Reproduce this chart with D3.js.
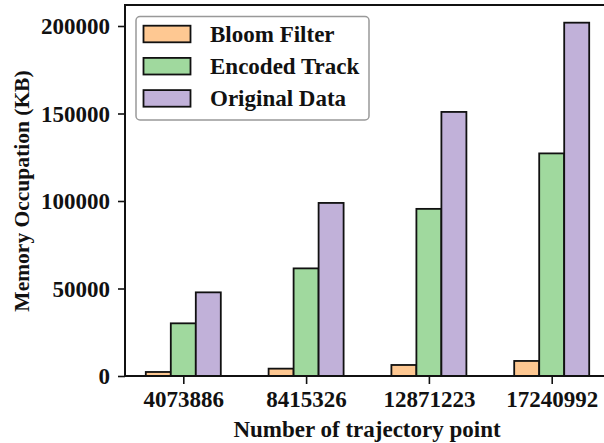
<!DOCTYPE html>
<html><head><meta charset="utf-8">
<script src="https://cdn.jsdelivr.net/npm/d3@7"></script>
<style>body{margin:0;background:#fff;} svg{display:block;}</style>
</head><body>
<svg id="c" width="604" height="443"></svg>
<script>
const categories = ["4073886","8415326","12871223","17240992"];
const seriesNames = ["Bloom Filter","Encoded Track","Original Data"];
const bloomFilter = [2300, 4200, 6300, 8600];
const encodedTrack = [30100, 61500, 95500, 127200];
const originalData = [47800, 98900, 150900, 201900];
const yTicks = [0, 50000, 100000, 150000, 200000];
const colors = ["#fec892", "#a0d99e", "#c1b1d9"];
const series = [bloomFilter, encodedTrack, originalData];

const font = "'Liberation Serif','Times New Roman',serif";
const svg = d3.select("#c");
const m = {left:125, top:5, right:640, bottom:376};

const x = d3.scalePoint().domain(categories).range([183.3, 551.7]);
const inner = d3.scaleBand().domain(seriesNames).range([-37.5, 37.5]).padding(0);
const y = d3.scaleLinear().domain([0, 212000]).range([m.bottom, m.top]);

// bars
series.forEach((vals, si) => {
  svg.append("g").selectAll("rect").data(vals).join("rect")
    .attr("x", (d,i) => x(categories[i]) + inner(seriesNames[si]))
    .attr("y", d => y(d))
    .attr("width", inner.bandwidth())
    .attr("height", d => y(0) - y(d))
    .attr("fill", colors[si])
    .attr("stroke", "#111")
    .attr("stroke-width", 1.8);
});

// axes
const yAxis = d3.axisLeft(y).tickValues(yTicks).tickSize(7).tickPadding(8).tickFormat(d3.format("d"));
const gy = svg.append("g").attr("transform", `translate(${m.left},0)`).call(yAxis);
const xAxis = d3.axisBottom(x).tickSize(8).tickPadding(7);
const gx = svg.append("g").attr("transform", `translate(0,${m.bottom})`).call(xAxis);
[gx, gy].forEach(g => {
  g.select(".domain").remove();
  g.selectAll(".tick line").attr("stroke", "#111").attr("stroke-width", 1.6);
  g.selectAll(".tick text").attr("font-family", font).attr("font-weight", "bold")
    .attr("font-size", 23).attr("fill", "#111");
});
gy.selectAll(".tick text").attr("dy", "0.34em");

// spines
svg.append("rect").attr("x", m.left).attr("y", m.top)
  .attr("width", m.right - m.left).attr("height", m.bottom - m.top)
  .attr("fill", "none").attr("stroke", "#111").attr("stroke-width", 2);

// axis titles
svg.append("text").attr("x", 367).attr("y", 437).attr("text-anchor", "middle")
  .attr("font-family", font).attr("font-weight", "bold").attr("font-size", 23).attr("fill", "#111")
  .text("Number of trajectory point");
svg.append("text").attr("transform", "translate(29,191) rotate(-90)").attr("text-anchor", "middle")
  .attr("font-family", font).attr("font-weight", "bold").attr("font-size", 21.5).attr("fill", "#111")
  .text("Memory Occupation (KB)");

// legend
const lg = svg.append("g");
lg.append("rect").attr("x", 136).attr("y", 16.5).attr("width", 233).attr("height", 103.5)
  .attr("rx", 4).attr("fill", "#fff").attr("stroke", "#999").attr("stroke-width", 1.5);
seriesNames.forEach((s, i) => {
  const cy = 34 + i * 32.2;
  lg.append("rect").attr("x", 143.5).attr("y", cy - 8.3).attr("width", 47).attr("height", 16.6)
    .attr("fill", colors[i]).attr("stroke", "#111").attr("stroke-width", 1.8);
  lg.append("text").attr("x", 210).attr("y", cy).attr("dy", "0.35em")
    .attr("font-family", font).attr("font-weight", "bold").attr("font-size", 23).attr("fill", "#111")
    .text(s);
});
</script>
</body></html>
